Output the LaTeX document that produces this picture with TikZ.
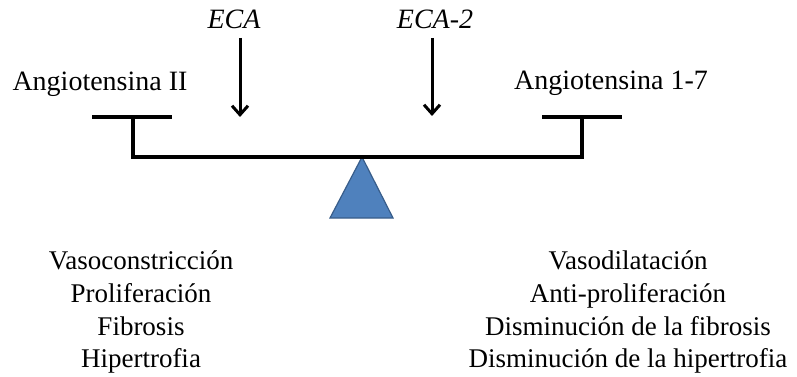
\documentclass[tikz,border=0pt]{standalone}
\usepackage{fontspec}
\setmainfont{Liberation Serif}
\usetikzlibrary{arrows.meta}
\definecolor{pivotfill}{RGB}{79,129,189}
\definecolor{pivotline}{RGB}{56,93,138}

\begin{document}
\begin{tikzpicture}[x=1pt,y=-1pt,
    label/.style={font=\fontsize{28}{30}\selectfont,inner sep=0pt,anchor=base},
    effect/.style={font=\fontsize{27}{30}\selectfont,inner sep=0pt,anchor=base},
    enzyme/.style={line width=3pt,-{Straight Barb[length=9pt,width=16pt]}},
    beam/.style={line width=3.4pt,line join=miter}]
  \useasboundingbox (0,0) rectangle (797,377);
  \node[label] (angII) at (100,91) {Angiotensina II};
  \node[label] (ang17) at (611,90) {Angiotensina 1-7};
  \node[label] (eca) at (234,29) {\itshape ECA};
  \node[label] (eca2) at (435,29) {\itshape ECA-2};
  \coordinate (ecatip) at (240,117);
  \coordinate (eca2tip) at (432,116);
  \draw[enzyme] (ecatip |- 0,38) -- (ecatip);
  \draw[enzyme] (eca2tip |- 0,38) -- (eca2tip);
  \coordinate (pivot) at (362,157);
  \filldraw[fill=pivotfill,draw=pivotline,line width=1.2pt] (pivot) -- (330,218) -- (393,218) -- cycle;
  \draw[beam] (92,117) -- (172,117);
  \draw[beam] (133,117) |- (582,157) -- (582,117);
  \draw[beam] (542,117) -- (622,117);
  \node[effect] (vasoc) at (141,269) {Vasoconstricción};
  \node[effect] (prolif) at (141,302) {Proliferación};
  \node[effect] (fibro) at (141,335) {Fibrosis};
  \node[effect] (hiper) at (141,367) {Hipertrofia};
  \node[effect] (vasod) at (628,269) {Vasodilatación};
  \node[effect] (antip) at (628,302) {Anti-proliferación};
  \node[effect] (dfibro) at (628,335) {Disminución de la fibrosis};
  \node[effect] (dhiper) at (628,367) {Disminución de la hipertrofia};
\end{tikzpicture}
\end{document}
